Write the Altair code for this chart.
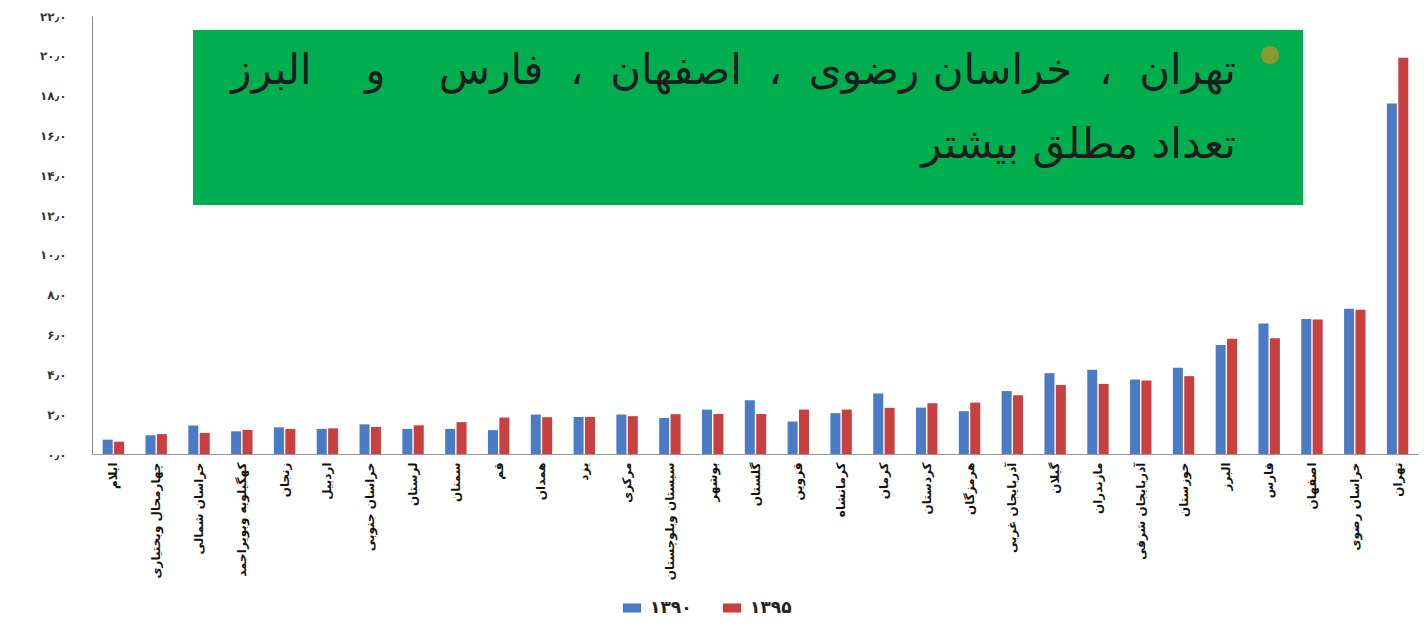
import altair as alt
import pandas as pd

provinces = [
    "ایلام", "چهارمحال وبختیاری", "خراسان شمالی", "کهگیلویه وبویراحمد", "زنجان",
    "اردبیل", "خراسان جنوبی", "لرستان", "سمنان", "قم", "همدان", "یزد", "مرکزی",
    "سیستان وبلوچستان", "بوشهر", "گلستان", "قزوین", "کرمانشاه", "کرمان", "کردستان",
    "هرمزگان", "آذربایجان غربی", "گیلان", "مازندران", "آذربایجان شرقی", "خوزستان",
    "البرز", "فارس", "اصفهان", "خراسان رضوی", "تهران",
]
v1390 = [0.72, 0.94, 1.43, 1.14, 1.34, 1.26, 1.49, 1.26, 1.26, 1.20, 1.98, 1.86, 1.98,
         1.81, 2.23, 2.70, 1.63, 2.05, 3.04, 2.33, 2.15, 3.16, 4.06, 4.23, 3.74, 4.33,
         5.47, 6.55, 6.78, 7.30, 17.6]
v1395 = [0.62, 1.00, 1.06, 1.21, 1.26, 1.29, 1.36, 1.44, 1.60, 1.83, 1.85, 1.86, 1.90,
         2.00, 2.01, 2.01, 2.23, 2.23, 2.32, 2.55, 2.58, 2.95, 3.47, 3.52, 3.69, 3.91,
         5.79, 5.82, 6.75, 7.25, 19.9]
years = ["۱۳۹۰", "۱۳۹۵"]
y_ticks = [0, 2, 4, 6, 8, 10, 12, 14, 16, 18, 20, 22]
NB = "\u00a0"
note_line1 = ("تهران" + NB * 2 + "،" + NB * 2 + "خراسان" + NB + "رضوی" + NB * 2 + "،"
              + NB * 2 + "اصفهان" + NB * 2 + "،" + NB * 2 + "فارس" + NB * 4 + "و"
              + NB * 4 + "البرز")
note_line2 = "تعداد مطلق بیشتر"

rows = []
for p, a, b in zip(provinces, v1390, v1395):
    rows.append({"province": p, "year": years[0], "value": a})
    rows.append({"province": p, "year": years[1], "value": b})
df = pd.DataFrame(rows)

# Persian digits label expression
expr = "format(datum.value, '.1f')"
expr = "replace(" + expr + ", '.', '٫')"
for d, f in zip("0123456789", "۰۱۲۳۴۵۶۷۸۹"):
    expr = "replace(" + expr + ", regexp('" + d + "', 'g'), '" + f + "')"

FONT = "DejaVu Sans"

bars = alt.Chart(df).mark_bar().encode(
    x=alt.X("province:N", sort=provinces, title=None,
            scale=alt.Scale(paddingInner=0.5, paddingOuter=0.25),
            axis=alt.Axis(labelAngle=270, labelFont=FONT, labelFontWeight="bold",
                          labelFontSize=12, labelColor="#111", labelLimit=300,
                          ticks=False, domainColor="#999", labelPadding=8)),
    xOffset=alt.XOffset("year:N", sort=years, scale=alt.Scale(paddingInner=0.12)),
    y=alt.Y("value:Q", title=None,
            scale=alt.Scale(domain=[0, 22], nice=False),
            axis=alt.Axis(values=y_ticks, labelExpr=expr, grid=False, ticks=False,
                          labelFont=FONT, labelFontWeight="bold", labelFontSize=12,
                          labelColor="#333", domainColor="#888", labelPadding=26)),
    color=alt.Color("year:N", sort=years,
                    scale=alt.Scale(domain=years, range=["#4a7bc4", "#c8403f"]),
                    legend=alt.Legend(title=None, orient="none", direction="horizontal",
                                      legendX=530, legendY=582,
                                      symbolType="M-1,-0.5H1V0.5H-1Z", symbolSize=330,
                                      labelFont=FONT, labelFontWeight="bold",
                                      labelFontSize=17, labelColor="#222",
                                      labelOffset=8, columnPadding=30, symbolOpacity=1)),
)

box = alt.Chart().mark_rect(color="#00ae4f").encode(
    x=alt.value(101), x2=alt.value(1211), y=alt.value(14), y2=alt.value(189))

dot = alt.Chart().mark_point(filled=True, shape="circle", size=330,
                             color="#8a9a2e", opacity=1).encode(
    x=alt.value(1178), y=alt.value(39))

t1 = alt.Chart().mark_text(text=note_line1, font=FONT, fontSize=42, color="#1d1d1d",
                           align="right", baseline="alphabetic").encode(
    x=alt.value(1144), y=alt.value(68))
t2 = alt.Chart().mark_text(text=note_line2, font=FONT, fontSize=42, color="#1d1d1d",
                           align="right", baseline="alphabetic").encode(
    x=alt.value(1144), y=alt.value(142))

chart = alt.layer(bars, box, dot, t1, t2).properties(
    width=1327, height=438,
    autosize=alt.AutoSizeParams(type="none"),
    padding={"left": 84, "top": 8, "right": 0, "bottom": 168},
).configure(background="white").configure_view(stroke=None)

chart.save("out.html", embed_options={"renderer": "svg", "actions": False})
